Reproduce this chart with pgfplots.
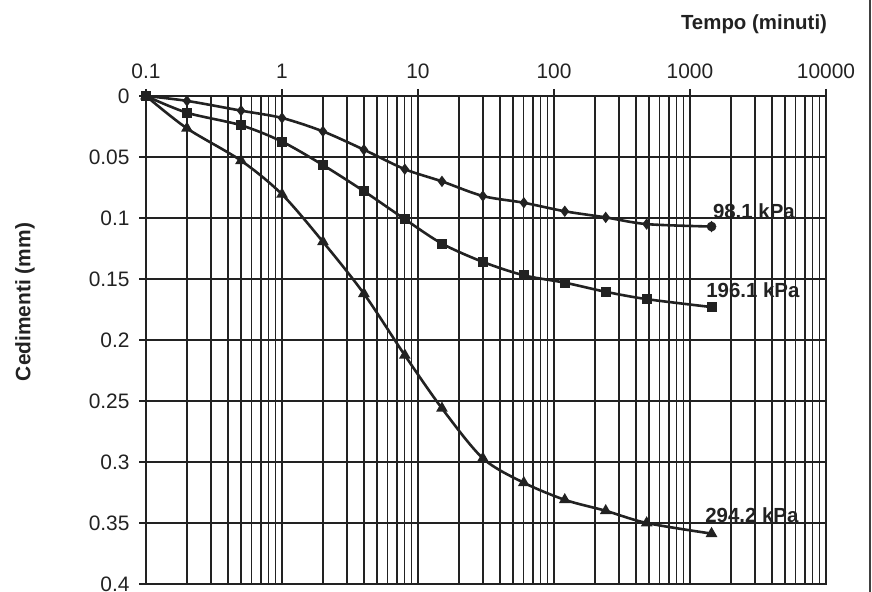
\documentclass[border=0pt]{standalone}
\usepackage{fontspec}
\setmainfont{Liberation Sans}
\usepackage{pgfplots}
\pgfplotsset{compat=1.18}

\definecolor{ink}{HTML}{222222}

\begin{document}
\begin{tikzpicture}
\useasboundingbox (0,0) rectangle (872bp,592bp);

% page edge on the right
\draw[line width=1.3bp, black!75] (870bp,0) -- (870bp,592bp);

% axis titles
\node[font=\fontsize{20.5}{24}\selectfont\bfseries, text=ink] at (754bp,568bp) {Tempo (minuti)};
\node[font=\fontsize{21}{24}\selectfont\bfseries, text=ink, rotate=90] at (25bp,290bp) {Cedimenti (mm)};

\begin{axis}[
  at={(146bp,496bp)}, anchor=north west,
  scale only axis, width=680bp, height=488bp,
  xmode=log, xmin=0.1, xmax=10000,
  ymin=0, ymax=0.4, y dir=reverse,
  xtick={0.1,1,10,100,1000,10000},
  xticklabels={0.1,1,10,100,1000,10000},
  ytick={0,0.05,0.1,0.15,0.2,0.25,0.3,0.35,0.4},
  yticklabels={0,0.05,0.1,0.15,0.2,0.25,0.3,0.35,0.4},
  xtick pos=right, xticklabel pos=right,
  ytick pos=left,
  tick align=outside,
  major tick length=7bp, minor tick length=0bp,
  tick style={line width=1.3bp, ink},
  grid=both,
  major grid style={line width=1.3bp, ink},
  minor grid style={line width=1.3bp, ink},
  axis line style={line width=2.2bp, ink},
  /pgf/number format/assume math mode=true,
  ticklabel style={font=\fontsize{21}{24}\selectfont, text=ink},
  xticklabel style={yshift=7bp},
  yticklabel style={xshift=-6bp},
  clip=false,
]

% 98.1 kPa
\addplot[smooth, line width=2.6bp, ink, mark=diamond*, mark size=3.6bp,
  mark options={solid, fill=ink}] coordinates {
  (0.1,0) (0.2,0.004) (0.5,0.012) (1,0.018) (2,0.029) (4,0.044) (8,0.060)
  (15,0.070) (30,0.082) (60,0.0875) (120,0.0945) (240,0.0995) (480,0.105)
  (1440,0.107)};
\addplot[only marks, mark=*, mark size=4.6bp, ink] coordinates {(1440,0.107)};

% 196.1 kPa
\addplot[smooth, line width=2.6bp, ink, mark=square*, mark size=3.7bp,
  mark options={solid, fill=ink}] coordinates {
  (0.1,0) (0.2,0.0137) (0.5,0.024) (1,0.0374) (2,0.0566) (4,0.078) (8,0.101)
  (15,0.121) (30,0.136) (60,0.147) (120,0.153) (240,0.1605) (480,0.1665)
  (1440,0.173)};

% 294.2 kPa
\addplot[smooth, line width=2.6bp, ink, mark=triangle*, mark size=4.2bp,
  mark options={solid, fill=ink}] coordinates {
  (0.1,0) (0.2,0.0265) (0.5,0.053) (1,0.0806) (2,0.1195) (4,0.162) (8,0.2125)
  (15,0.256) (30,0.297) (60,0.317) (120,0.331) (240,0.340) (480,0.350)
  (1440,0.3587)};

\node[font=\fontsize{20.5}{24}\selectfont\bfseries, text=ink] at (axis cs:2950,0.0943) {98.1 kPa};
\node[font=\fontsize{20.5}{24}\selectfont\bfseries, text=ink] at (axis cs:2900,0.159) {196.1 kPa};
\node[font=\fontsize{20.5}{24}\selectfont\bfseries, text=ink] at (axis cs:2850,0.3435) {294.2 kPa};
\end{axis}
\end{tikzpicture}
\end{document}
